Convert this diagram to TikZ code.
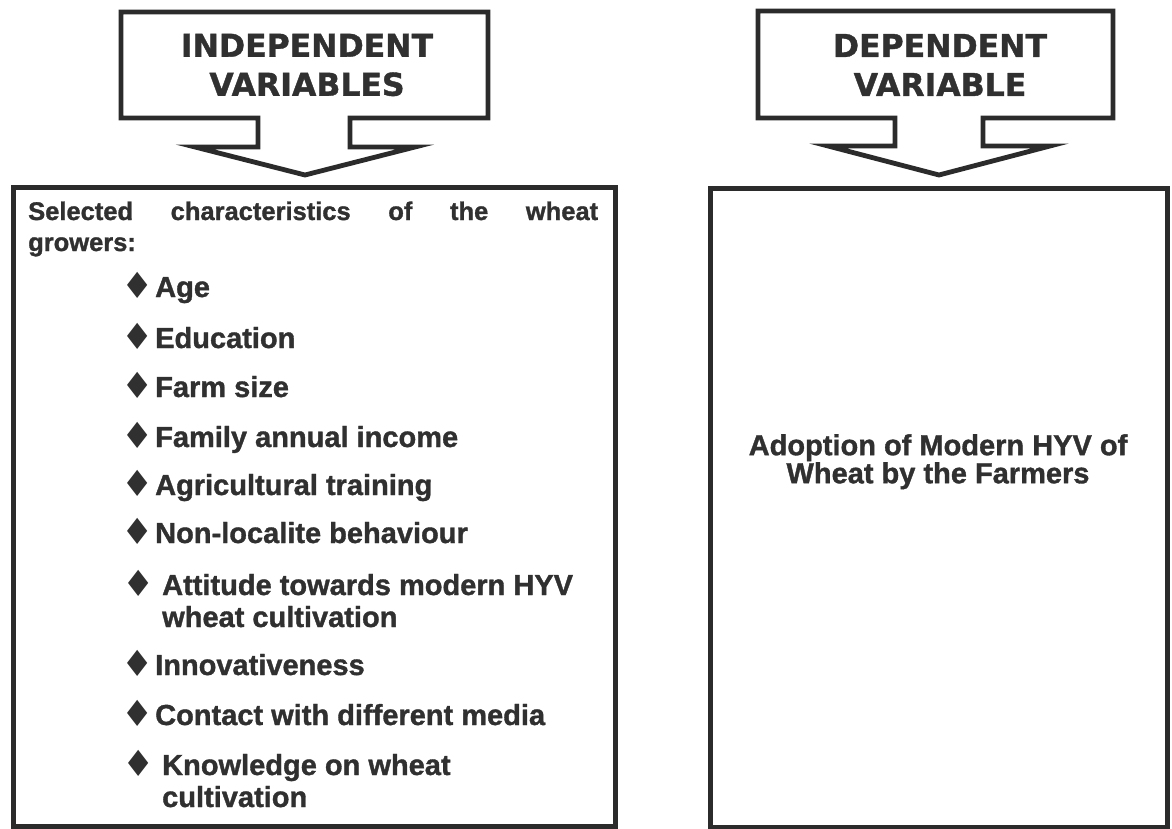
\documentclass[tikz,border=0pt]{standalone}
\usepackage{fontspec}
\setmainfont{Liberation Sans}[BoldFeatures={FakeBold=1.2}]
\newfontfamily\hdrfont{DejaVu Sans}[BoldFeatures={FakeBold=1.2}]
\newfontfamily\symfont{DejaVu Sans}
\definecolor{linec}{HTML}{2B2B2B}
\definecolor{txtc}{HTML}{303030}
\tikzset{
  frame/.style={draw=linec, line width=4.8pt, line join=miter},
  hdr/.style={font=\hdrfont\bfseries\fontsize{31.5}{39}\selectfont, text=txtc, align=center, inner sep=0pt},
  item/.style={font=\bfseries\fontsize{29}{32}\selectfont, text=txtc, anchor=base west, inner sep=0pt},
  intro/.style={font=\bfseries\fontsize{25.5}{31}\selectfont, text=txtc, anchor=base west, inner sep=0pt},
  bullet/.style={font=\symfont\fontsize{36}{36}\selectfont, text=txtc, anchor=base, inner sep=0pt},
  result/.style={font=\bfseries\fontsize{29}{27}\selectfont, text=txtc, align=center, inner sep=0pt},
}
\begin{document}
\begin{tikzpicture}[x=1pt, y=-1pt]
\useasboundingbox[fill=white] (0,0) rectangle (1172,829);

% header callouts
\draw[frame] (121,12) -- (488,12) -- (488,118) -- (350,118) -- (350,147) -- (415,147)
  -- (305,175) -- (195,147) -- (258,147) -- (258,118) -- (121,118) -- cycle;
\node[hdr] (indep) at (307,65) {INDEPENDENT\\VARIABLES};

\draw[frame] (758,11) -- (1113,11) -- (1113,118) -- (983,118) -- (983,146) -- (1050,146)
  -- (939,175) -- (828,146) -- (895,146) -- (895,118) -- (758,118) -- cycle;
\node[hdr] (dep) at (940,65) {DEPENDENT\\VARIABLE};

% main boxes
\node[frame, anchor=north west, minimum width=602pt, minimum height=639pt, inner sep=0pt] (leftbox) at (11,185) {};
\node[frame, anchor=north west, minimum width=457pt, minimum height=639pt, inner sep=0pt] (rightbox) at (708,186) {};

% left box content
\node[intro] (introa) at (28,220) {\makebox[570pt][s]{Selected characteristics of the wheat}};
\node[intro] (introb) at (28,251) {growers:};

\node[bullet] (b1) at (138,298) {♦};  \node[item] (i1) at (155,297) {Age};
\node[bullet] (b2) at (138,349) {♦};  \node[item] (i2) at (155,348) {Education};
\node[bullet] (b3) at (138,398) {♦};  \node[item] (i3) at (155,397) {Farm size};
\node[bullet] (b4) at (138,448) {♦};  \node[item] (i4) at (155,447) {Family annual income};
\node[bullet] (b5) at (138,496) {♦};  \node[item] (i5) at (155,495) {Agricultural training};
\node[bullet] (b6) at (138,544) {♦};  \node[item] (i6) at (155,543) {Non-localite behaviour};
\node[bullet] (b7) at (139,596) {♦};  \node[item] (i7) at (162,595) {Attitude towards modern HYV};
\node[item] (i7b) at (162,627) {wheat cultivation};
\node[bullet] (b8) at (138,676) {♦};  \node[item] (i8) at (155,675) {Innovativeness};
\node[bullet] (b9) at (138,726) {♦};  \node[item] (i9) at (155,725) {Contact with different media};
\node[bullet] (b10) at (139,776) {♦}; \node[item] (i10) at (162,775) {Knowledge on wheat};
\node[item] (i10b) at (162,807) {cultivation};

% right box content
\node[result, anchor=north] (adopt) at (938,434) {Adoption of Modern HYV of\\Wheat by the Farmers};
\end{tikzpicture}
\end{document}
